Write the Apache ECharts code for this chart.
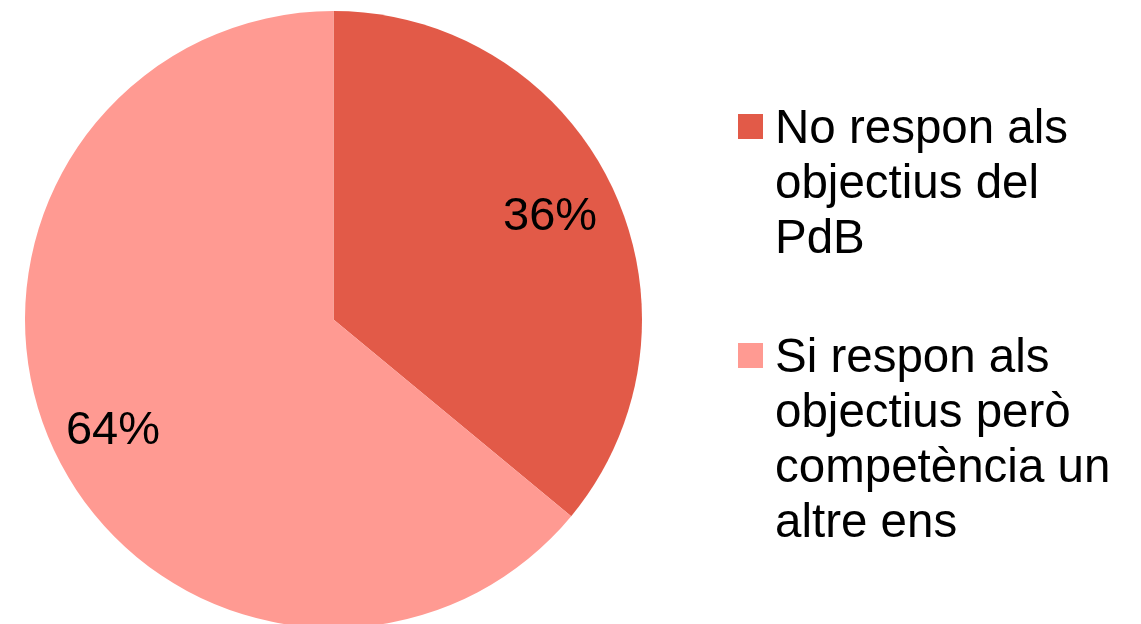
<!DOCTYPE html>
<html>
<head>
<meta charset="utf-8">
<script src="https://cdn.jsdelivr.net/npm/echarts@6/dist/echarts.min.js"></script>
<style>
html,body{margin:0;padding:0;background:#fff;}
#c{width:1141px;height:624px;}
</style>
</head>
<body>
<div id="c"></div>
<script>
var categories = ['No respon als objectius del PdB', 'Si respon als objectius però competència un altre ens'];
var legendLines = [['No respon als', 'objectius del', 'PdB'], ['Si respon als', 'objectius però', 'competència un', 'altre ens']];
var values = [36, 64];
var colors = ['#E25A48', '#FF9A92'];

var chart = echarts.init(document.getElementById('c'), null, {renderer: 'canvas'});
var font = '"Liberation Sans", Arial, sans-serif';
var center = [333.5, 319.5];
var R = 308.5;
var LH = 55;
var labelOffsets = [[-6, 2], [2, 7]];

var pieData = categories.map(function (c, i) {
  return {name: c, value: values[i], itemStyle: {color: colors[i]}};
});
var labelData = categories.map(function (c, i) {
  return {name: c, value: values[i], label: {offset: labelOffsets[i]}};
});

function legendFor(i, top) {
  var lines = legendLines[i];
  var spacerH = LH * (lines.length - 1) + 6;
  return {
    data: [{name: categories[i], icon: 'rect'}],
    orient: 'vertical',
    left: 738,
    top: top,
    padding: 0,
    itemWidth: 25,
    itemHeight: 25,
    selectedMode: false,
    formatter: function () {
      return '{s| }\n' + lines.map(function (l) { return '{t|' + l + '}'; }).join('\n');
    },
    textStyle: {
      fontFamily: font,
      fontSize: 47.5,
      lineHeight: LH,
      color: '#000',
      rich: {
        s: {height: spacerH, lineHeight: spacerH, fontSize: 10},
        t: {fontFamily: font, fontSize: 47.5, lineHeight: LH, color: '#000', padding: [0, 0, 0, 7]}
      }
    }
  };
}

chart.setOption({
  animation: false,
  backgroundColor: '#fff',
  legend: [legendFor(0, 114 - 128), legendFor(1, 342 - 182)],
  series: [
    {
      type: 'pie',
      center: center,
      radius: [0, R],
      startAngle: 90,
      clockwise: true,
      label: {show: false},
      labelLine: {show: false},
      emphasis: {disabled: true},
      itemStyle: {borderWidth: 0},
      data: pieData
    },
    {
      type: 'pie',
      center: center,
      radius: [177.5, R],
      startAngle: 90,
      clockwise: true,
      silent: true,
      legendHoverLink: false,
      itemStyle: {color: 'rgba(0,0,0,0)', borderWidth: 0},
      emphasis: {disabled: true},
      label: {
        show: true,
        position: 'inside',
        formatter: function (p) { return p.value + '%'; },
        fontFamily: font,
        fontSize: 47,
        color: '#000'
      },
      labelLine: {show: false},
      data: labelData
    }
  ]
});
</script>
</body>
</html>
